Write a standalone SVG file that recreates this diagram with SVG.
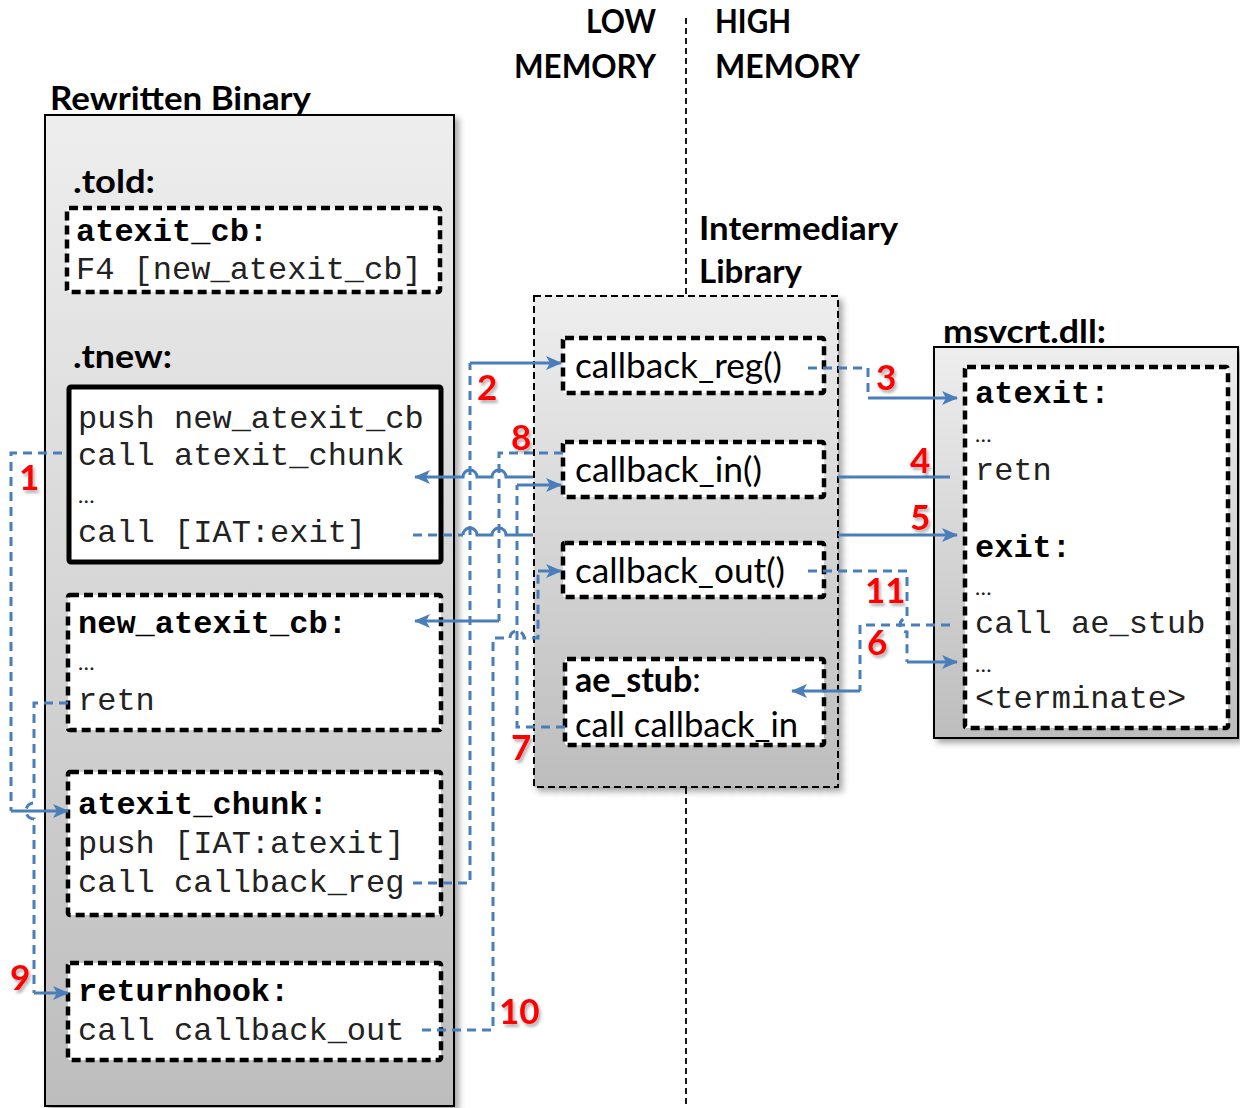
<svg xmlns="http://www.w3.org/2000/svg" width="1240" height="1108" viewBox="0 0 1240 1108">
<defs>
<linearGradient id="gBox" x1="0" y1="0" x2="0" y2="1"><stop offset="0" stop-color="#eeeeee"/><stop offset="1" stop-color="#bdbdbd"/></linearGradient>
<filter id="sh" x="-10%" y="-10%" width="130%" height="130%"><feDropShadow dx="4" dy="4" stdDeviation="3" flood-color="#000" flood-opacity="0.35"/></filter>
<filter id="tsh" x="-30%" y="-30%" width="170%" height="170%"><feDropShadow dx="2" dy="3" stdDeviation="1.5" flood-color="#000" flood-opacity="0.3"/></filter>
<marker id="ah" viewBox="0 0 16 14" refX="15" refY="7" markerWidth="16" markerHeight="14" orient="auto" markerUnits="userSpaceOnUse"><path d="M0,0 L16,7 L0,14 L4,7 z" fill="#4a7ebb"/></marker>
</defs>
<style>
.h{font-family:Lato,"Open Sans",sans-serif;font-weight:bold;font-size:33px;fill:#000}
.c{font-family:"Liberation Mono","Courier New",monospace;font-size:32px;fill:#222}
.cb{font-weight:bold;fill:#000}
.el{font-family:Lato,sans-serif;font-size:22px;fill:#222}
.s{font-family:Lato,"Open Sans",sans-serif;font-size:34px;fill:#000}
.n{font-family:Lato,"Open Sans",sans-serif;font-weight:bold;font-size:35px;fill:#ff0000;filter:url(#tsh)}
.dbox{fill:#fff;stroke:#000;stroke-width:4.5;stroke-dasharray:9 5}
.big{fill:url(#gBox);filter:url(#sh)}
.ln{fill:none;stroke:#4a7ebb;stroke-width:3}
.dl{stroke-dasharray:9 6}
</style>

<line x1="686" y1="18" x2="686" y2="1106" stroke="#000" stroke-width="1.8" stroke-dasharray="6 4"/>

<g id="labels">
<text class="h" x="656" y="33" text-anchor="end" textLength="70" lengthAdjust="spacingAndGlyphs">LOW</text>
<text class="h" x="514" y="78" textLength="142" lengthAdjust="spacingAndGlyphs">MEMORY</text>
<text class="h" x="715" y="33" textLength="76" lengthAdjust="spacingAndGlyphs">HIGH</text>
<text class="h" x="715" y="78" textLength="145" lengthAdjust="spacingAndGlyphs">MEMORY</text>
<text class="h" x="699" y="240" textLength="199" lengthAdjust="spacingAndGlyphs">Intermediary</text>
<text class="h" x="699" y="283" textLength="103" lengthAdjust="spacingAndGlyphs">Library</text>
<text class="h" x="50" y="110" textLength="261" lengthAdjust="spacingAndGlyphs">Rewritten Binary</text>
<text class="h" x="943" y="343" textLength="163" lengthAdjust="spacingAndGlyphs">msvcrt.dll:</text>
</g>

<g id="rewritten-binary">
<rect class="big" x="45" y="115" width="409" height="991" stroke="#000" stroke-width="2"/>
<text class="h" x="73" y="193" textLength="82" lengthAdjust="spacingAndGlyphs">.told:</text>
<text class="h" x="73" y="368" textLength="99" lengthAdjust="spacingAndGlyphs">.tnew:</text>
</g>

<g id="atexit-cb">
<rect class="dbox" x="67" y="208" width="373" height="84" rx="2"/>
<text class="c cb" x="76" y="241">atexit_cb:</text>
<text class="c" x="76" y="279">F4 [new_atexit_cb]</text>
</g>

<g id="tnew-code">
<rect x="69" y="387" width="372" height="175" fill="#fff" stroke="#000" stroke-width="5" rx="2"/>
<text class="c" x="78" y="428">push new_atexit_cb</text>
<text class="c" x="78" y="465">call atexit_chunk</text>
<text class="el" x="78" y="503">…</text>
<text class="c" x="78" y="542">call [IAT:exit]</text>
</g>

<g id="new-atexit-cb">
<rect class="dbox" x="68" y="595" width="373" height="135" rx="2"/>
<text class="c cb" x="78" y="633">new_atexit_cb:</text>
<text class="el" x="78" y="670">…</text>
<text class="c" x="78" y="710">retn</text>
</g>

<g id="atexit-chunk">
<rect class="dbox" x="68" y="772" width="373" height="143" rx="2"/>
<text class="c cb" x="78" y="814">atexit_chunk:</text>
<text class="c" x="78" y="853">push [IAT:atexit]</text>
<text class="c" x="78" y="892">call callback_reg</text>
</g>

<g id="returnhook">
<rect class="dbox" x="68" y="963" width="373" height="97" rx="2"/>
<text class="c cb" x="78" y="1001">returnhook:</text>
<text class="c" x="78" y="1040">call callback_out</text>
</g>

<g id="intermediary-library">
<rect class="big" x="534" y="296" width="304" height="491" stroke="#000" stroke-width="2" stroke-dasharray="7 4"/>
</g>

<g id="callback-reg">
<rect class="dbox" x="563" y="338" width="261" height="55" rx="2"/>
<text class="s" x="575" y="378" textLength="207" lengthAdjust="spacingAndGlyphs">callback_reg()</text>
</g>
<g id="callback-in">
<rect class="dbox" x="563" y="442" width="261" height="55" rx="2"/>
<text class="s" x="575" y="482" textLength="187" lengthAdjust="spacingAndGlyphs">callback_in()</text>
</g>
<g id="callback-out">
<rect class="dbox" x="563" y="543" width="261" height="54" rx="2"/>
<text class="s" x="575" y="583" textLength="210" lengthAdjust="spacingAndGlyphs">callback_out()</text>
</g>
<g id="ae-stub">
<rect class="dbox" x="565" y="659" width="259" height="86" rx="2"/>
<text class="s" x="575" y="692"><tspan font-weight="bold">ae_stub</tspan>:</text>
<text class="s" x="575" y="737" textLength="223" lengthAdjust="spacingAndGlyphs">call callback_in</text>
</g>

<g id="msvcrt">
<rect class="big" x="934" y="347" width="304" height="391" stroke="#000" stroke-width="2"/>
<rect class="dbox" x="965" y="367" width="263" height="361" rx="2"/>
<text class="c cb" x="975" y="403">atexit:</text>
<text class="el" x="975" y="442">…</text>
<text class="c" x="975" y="480">retn</text>
<text class="c cb" x="975" y="557">exit:</text>
<text class="el" x="975" y="595">…</text>
<text class="c" x="975" y="633">call ae_stub</text>
<text class="el" x="975" y="672">…</text>
<text class="c" x="975" y="708">&lt;terminate&gt;</text>
</g>

<g id="connectors">
<!-- 1 -->
<path class="ln dl" d="M62,453 H11 V811"/>
<path class="ln" d="M11,811 H68" marker-end="url(#ah)"/>
<!-- 9 -->
<path class="ln dl" d="M68,703 H34 V803 A8,8 0 0 0 34,819 V993"/>
<path class="ln" d="M34,993 H68" marker-end="url(#ah)"/>
<!-- 2 -->
<path class="ln dl" d="M413,883 H470 V363"/>
<path class="ln" d="M470,363 H561" marker-end="url(#ah)"/>
<!-- 4 -->
<path class="ln" d="M950,477 H838"/>
<path class="ln" d="M533,477 H506 A7,7 0 0 0 492,477 H477 A7,7 0 0 0 463,477 H415" marker-end="url(#ah)"/>
<!-- 5 -->
<path class="ln dl" d="M413,535 H463"/>
<path class="ln" d="M463,535 A7,7 0 0 1 477,535 H492 A7,7 0 0 1 506,535 H533"/>
<path class="ln" d="M838,535 H957" marker-end="url(#ah)"/>
<!-- 8 -->
<path class="ln dl" d="M563,453 H499 V621"/>
<path class="ln" d="M499,621 H415" marker-end="url(#ah)"/>
<!-- 7 -->
<path class="ln dl" d="M565,727 H517 V485"/>
<path class="ln" d="M517,485 H561" marker-end="url(#ah)"/>
<!-- 10 -->
<path class="ln dl" d="M422,1030 H493 V638 H510 A7,7 0 0 1 524,638 H538 V571"/>
<path class="ln" d="M538,571 H561" marker-end="url(#ah)"/>
<!-- 3 -->
<path class="ln dl" d="M808,368 H868 V398"/>
<path class="ln" d="M868,398 H957" marker-end="url(#ah)"/>
<!-- 11 -->
<path class="ln dl" d="M808,571 H907 V618 A7,7 0 0 0 907,632 V662"/>
<path class="ln" d="M907,662 H957" marker-end="url(#ah)"/>
<!-- 6 -->
<path class="ln dl" d="M950,625 H860 V691"/>
<path class="ln" d="M860,691 H792" marker-end="url(#ah)"/>
</g>

<g id="step-numbers">
<text class="n" x="19" y="490">1</text>
<text class="n" x="477" y="400">2</text>
<text class="n" x="876" y="390">3</text>
<text class="n" x="910" y="473">4</text>
<text class="n" x="910" y="530">5</text>
<text class="n" x="867" y="655">6</text>
<text class="n" x="511" y="760">7</text>
<text class="n" x="511" y="450">8</text>
<text class="n" x="10" y="990">9</text>
<text class="n" x="499" y="1024">10</text>
<text class="n" x="865" y="603">11</text>
</g>
</svg>
